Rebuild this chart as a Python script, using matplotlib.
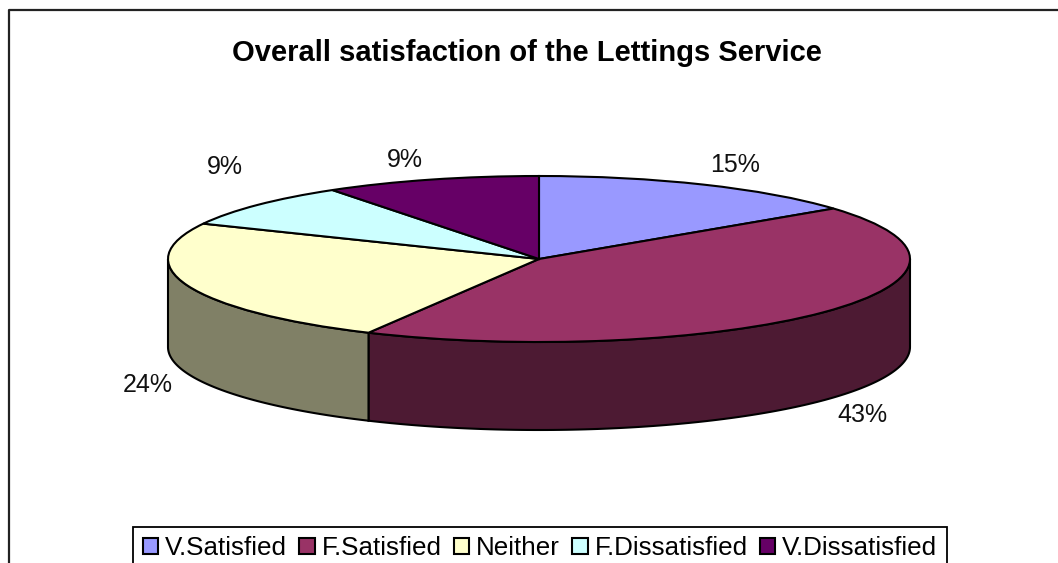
import matplotlib
matplotlib.use('Agg')
import matplotlib.pyplot as plt
import numpy as np
from matplotlib.colors import to_rgb
from matplotlib.patches import Polygon

plt.rcParams['font.family'] = ['Liberation Sans', 'DejaVu Sans']

categories = ['V.Satisfied', 'F.Satisfied', 'Neither', 'F.Dissatisfied', 'V.Dissatisfied']
values = [14.6, 43.0, 24.4, 8.6, 9.4]
pct_labels = ['15%', '43%', '24%', '9%', '9%']
colors = ['#9999FF', '#993366', '#FFFFCC', '#CCFFFF', '#660066']
title = 'Overall satisfaction of the Lettings Service'

W, H = 1058, 563
dpi = 100


def fx(x):
    return x / W


def fy(y):
    return 1 - y / H


fig = plt.figure(figsize=(W / dpi, H / dpi), dpi=dpi)

# outer chart frame, runs off the right and bottom of the picture
fig.add_artist(plt.Line2D([fx(9), fx(9), 1], [0, fy(10), fy(10)], color='#222222', lw=1.6))

# axes is exactly the bounding box of the top ellipse
left, right, top, bottom = 168, 910, 176, 342
ax = fig.add_axes([fx(left), fy(bottom), (right - left) / W, (bottom - top) / H])
wedges, _ = ax.pie(values, colors=colors, startangle=90, counterclock=False,
                   wedgeprops={'edgecolor': 'black', 'linewidth': 1.5, 'zorder': 3})
ax.set_aspect('auto')
ax.set_xlim(-1, 1)
ax.set_ylim(-1, 1)

# side wall of the pie, only the front half is visible
depth = 88 / ((bottom - top) / 2)
cum = np.cumsum([0] + values) / sum(values) * 2 * np.pi
for i in range(len(values)):
    a0 = max(cum[i], np.pi / 2)
    a1 = min(cum[i + 1], 3 * np.pi / 2)
    if a1 <= a0:
        continue
    t = np.linspace(a0, a1, 120)
    xs = np.sin(t)
    ys = np.cos(t)
    pts = np.vstack([np.column_stack([xs, ys]),
                     np.column_stack([xs[::-1], ys[::-1] - depth])])
    side = tuple(c * 0.5 for c in to_rgb(colors[i]))
    ax.add_patch(Polygon(pts, closed=True, facecolor=side, edgecolor='black',
                         linewidth=1.5, zorder=2, clip_on=False))

fig.text(fx(527), fy(53), title, ha='center', va='center', fontsize=21, fontweight='bold')

label_pos = [(735, 165), (862, 415), (148, 385), (225, 167), (405, 160)]
for (x, y), s in zip(label_pos, pct_labels):
    fig.text(fx(x), fy(y), s, ha='center', va='center', fontsize=18, color='#111111')

leg = fig.legend(wedges, categories, loc='center', bbox_to_anchor=(fx(540), fy(548)),
                 ncol=5, frameon=True, fancybox=False, edgecolor='black', framealpha=1,
                 fontsize=18.7, handlelength=0.6, handleheight=0.6, handletextpad=0.27,
                 columnspacing=0.46, borderpad=0.35, borderaxespad=0)
leg.get_frame().set_linewidth(1.3)

fig.savefig('out.png', dpi=dpi)
